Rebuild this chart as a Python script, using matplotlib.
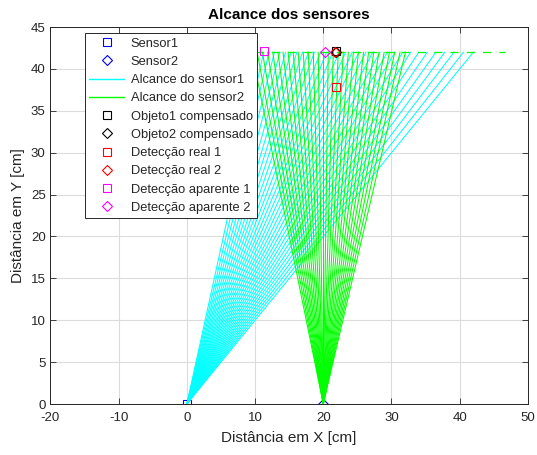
import numpy as np
import matplotlib
matplotlib.use('Agg')
import matplotlib.pyplot as plt
from matplotlib.lines import Line2D

plt.rcParams['font.family'] = ['Liberation Sans', 'DejaVu Sans']
plt.rcParams['axes.unicode_minus'] = False

# Sensor positions [cm]
sensor1 = (0.0, 0.0)
sensor2 = (20.0, 0.0)
range_y = 42.0

# Beam angles from vertical [deg]
beams1 = [15, 16, 17, 18, 19, 20, 21, 22, 23, 24, 25, 26, 27, 28, 29, 30,
          31, 32, 33, 34, 35, 36, 37, 38, 39, 40, 41, 42, 43, 44, 45]
beams2 = [-14, -13, -12, -11, -10, -9, -8, -7, -6, -5, -4, -3, -2, -1, 0, 1,
          2, 3, 4, 5, 6, 7, 8, 9, 10, 11, 12, 13, 14, 15, 16]
limit_x = [10.0, 46.7]

# Detected points [x, y]
objeto1 = (21.9, 42.1)
objeto2 = (21.8, 42.0)
real1 = (21.8, 37.8)
real2 = (21.7, 42.0)
aparente1 = (11.3, 42.1)
aparente2 = (20.2, 42.0)

CYAN, GREEN = '#00FFFF', '#00FF00'

fig = plt.figure(figsize=(5.37, 4.55), dpi=100)
ax = fig.add_axes([0.094, 0.112, 0.889, 0.8285])

mk = dict(linestyle='none', fillstyle='none', markersize=5.5, markeredgewidth=0.8)
ax.plot(*sensor1, marker='s', color='#0000FF', **mk)
ax.plot(*sensor2, marker='D', color='#0000FF', **mk)

# Beam fans drawn from each sensor up to the range limit
def fan(ax, origin, angles, color):
    ends = origin[0] + range_y * np.tan(np.radians(angles))
    for xe in ends:
        ax.plot([origin[0], xe], [origin[1], range_y], color=color, lw=0.75)

fan(ax, sensor1, beams1, CYAN)
fan(ax, sensor2, beams2, GREEN)
ax.plot(limit_x, [range_y, range_y], color=GREEN, lw=0.9, dashes=(6.5, 6.5))

ax.plot(*objeto1, marker='s', color='black', **mk)
ax.plot(*objeto2, marker='D', color='black', **mk)
ax.plot(*real1, marker='s', color='#FF0000', **mk)
ax.plot(*real2, marker='D', color='#FF0000', **mk)
ax.plot(*aparente1, marker='s', color='#FF00FF', **mk)
ax.plot(*aparente2, marker='D', color='#FF00FF', **mk)

ax.set_xlim(-20, 50)
ax.set_ylim(0, 45)
ax.set_xticks(np.arange(-20, 51, 10))
ax.set_yticks(np.arange(0, 46, 5))
ax.grid(True, color='#DCDCDC', linewidth=0.8)
ax.set_axisbelow(True)
ax.tick_params(direction='in', top=True, right=True, length=4, width=0.6,
               labelsize=9.5, colors='#262626')
ax.tick_params(axis='x', pad=6)
for sp in ax.spines.values():
    sp.set_color('#262626')
    sp.set_linewidth(0.7)

ax.set_title('Alcance dos sensores', fontsize=11, fontweight='bold', pad=6)
ax.set_xlabel('Distância em X [cm]', fontsize=11, color='#262626', labelpad=5)
ax.set_ylabel('Distância em Y [cm]', fontsize=11, color='#262626', labelpad=4)

# Legend handles
pm = dict(linestyle='none', fillstyle='none', markersize=5.5, markeredgewidth=0.8)
handles = [Line2D([], [], marker='s', color='#0000FF', **pm),
           Line2D([], [], marker='D', color='#0000FF', **pm),
           Line2D([], [], color=CYAN, lw=1.0),
           Line2D([], [], color=GREEN, lw=1.0),
           Line2D([], [], marker='s', color='black', **pm),
           Line2D([], [], marker='D', color='black', **pm),
           Line2D([], [], marker='s', color='#FF0000', **pm),
           Line2D([], [], marker='D', color='#FF0000', **pm),
           Line2D([], [], marker='s', color='#FF00FF', **pm),
           Line2D([], [], marker='D', color='#FF00FF', **pm)]
labels = ['Sensor1', 'Sensor2', 'Alcance do sensor1', 'Alcance do sensor2',
          'Objeto1 compensado', 'Objeto2 compensado', 'Detecção real 1',
          'Detecção real 2', 'Detecção aparente 1', 'Detecção aparente 2']
leg = ax.legend(handles, labels, loc='upper left', bbox_to_anchor=(0.072, 0.984),
                borderaxespad=0, fontsize=9.3, handlelength=2.7,
                labelspacing=0.48, fancybox=False, framealpha=1,
                edgecolor='#262626', borderpad=0.35, handletextpad=0.5)
leg.get_frame().set_linewidth(0.7)
for t in leg.get_texts():
    t.set_color('#262626')

fig.savefig('out.png', dpi=100)
